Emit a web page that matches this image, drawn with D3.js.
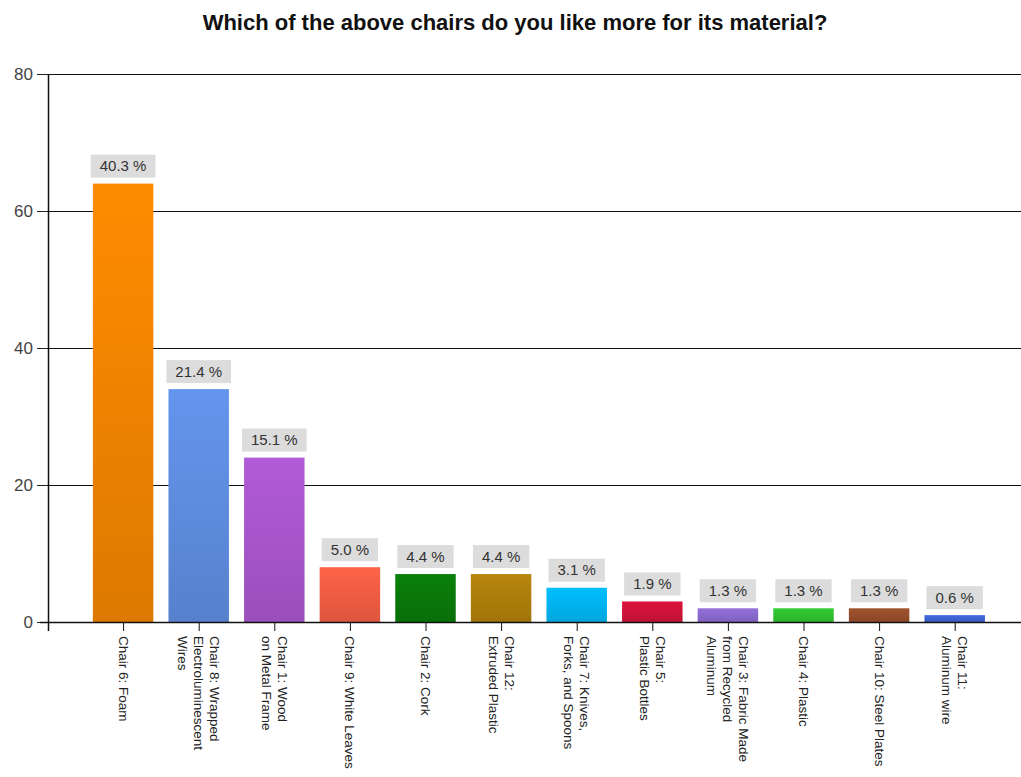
<!DOCTYPE html>
<meta charset="utf-8">
<style>
body { margin: 0; background: #fff; }
svg { display: block; font-family: "Liberation Sans", Arial, sans-serif; }
</style>
<svg width="1021" height="777"></svg>
<script src="https://d3js.org/d3.v7.js"></script>
<script>

// chart values
var categories = [
  "Chair 6: Foam",
  "Chair 8: Wrapped\nElectroluminescent\nWires",
  "Chair 1: Wood\non Metal Frame",
  "Chair 9: White Leaves",
  "Chair 2: Cork",
  "Chair 12:\nExtruded Plastic",
  "Chair 7: Knives,\nForks, and Spoons",
  "Chair 5:\nPlastic Bottles",
  "Chair 3: Fabric Made\nfrom Recycled\nAluminum",
  "Chair 4: Plastic",
  "Chair 10: Steel Plates",
  "Chair 11:\nAluminum wire"
]
var counts = [64, 34, 24, 8, 7, 7, 5, 3, 2, 2, 2, 1]
var percents = ["40.3 %", "21.4 %", "15.1 %", "5.0 %", "4.4 %", "4.4 %", "3.1 %", "1.9 %", "1.3 %", "1.3 %", "1.3 %", "0.6 %"]
var yTicks = [0, 20, 40, 60, 80]
var title = "Which of the above chairs do you like more for its material?"

var palette = ["#ff8c00", "#6495ed", "#b25bd8", "#ff6347", "#0a800a", "#b8860b",
               "#00bfff", "#dc143c", "#9370db", "#32cd32", "#a0522d", "#4169e1"]

var svg = d3.select("svg")

var xScale = d3.scaleBand().domain(d3.range(categories.length))
  .range([85.3, 992.5]).paddingInner(0.2).paddingOuter(0.1)
var yScale = d3.scaleLinear().domain([0, 80]).range([622, 74])

// gradients
var defs = svg.append("defs")
palette.forEach(function (c, i) {
  var grad = defs.append("linearGradient").attr("id", "grad" + i)
    .attr("x1", 0).attr("y1", 0).attr("x2", 0).attr("y2", 1)
  grad.append("stop").attr("offset", "0%").attr("stop-color", c)
  grad.append("stop").attr("offset", "100%").attr("stop-color", d3.color(c).darker(0.4))
})

svg.append("text")
  .attr("x", 515).attr("y", 30)
  .attr("text-anchor", "middle")
  .style("font-size", "22px").style("font-weight", "bold").style("fill", "#111")
  .text(title)

// grid lines + y axis
var yAxis = svg.append("g").attr("transform", "translate(48,0)")
  .call(d3.axisLeft(yScale).tickValues(yTicks).tickSize(11).tickPadding(4))
yAxis.select(".domain").remove()
yAxis.selectAll(".tick line").attr("stroke", "#222")
yAxis.selectAll(".tick text").style("font-size", "17px").style("fill", "#444")
  .style("font-family", "Liberation Sans, Arial, sans-serif")

svg.append("g").selectAll("line.grid")
  .data(yTicks.slice(1))
  .enter().append("line")
  .attr("x1", 48).attr("x2", 1021)
  .attr("y1", function (d) { return yScale(d) + 0.5 })
  .attr("y2", function (d) { return yScale(d) + 0.5 })
  .attr("stroke", "#111")

// bars
svg.append("g").selectAll("rect")
  .data(counts)
  .enter().append("rect")
  .attr("x", function (d, i) { return xScale(i) })
  .attr("width", xScale.bandwidth())
  .attr("y", function (d) { return yScale(d) })
  .attr("height", function (d) { return yScale(0) - yScale(d) })
  .attr("fill", function (d, i) { return "url(#grad" + i + ")" })

// x axis
svg.append("line").attr("x1", 40).attr("x2", 1021)
  .attr("y1", yScale(0) + 0.5).attr("y2", yScale(0) + 0.5).attr("stroke", "#111").attr("stroke-width", 1.5)
svg.append("line").attr("x1", 48.5).attr("x2", 48.5)
  .attr("y1", yScale(80)).attr("y2", yScale(0) + 9).attr("stroke", "#111").attr("stroke-width", 1.5)

var xg = svg.append("g").selectAll("g.xtick")
  .data(categories)
  .enter().append("g")
  .attr("transform", function (d, i) { return "translate(" + (xScale(i) + xScale.bandwidth() / 2) + ",0)" })

xg.append("line").attr("x1", 0.5).attr("x2", 0.5)
  .attr("y1", yScale(0)).attr("y2", yScale(0) + 9).attr("stroke", "#111")

xg.append("text")
  .attr("transform", "translate(0,636) rotate(90)")
  .style("font-size", "13.5px").style("fill", "#222")
  .each(function (d) {
    var lines = d.split("\n")
    var t = d3.select(this)
    var b = 4.5 - (lines.length - 1) * 8
    lines.forEach(function (l, k) {
      t.append("tspan").attr("x", 0).attr("y", b + k * 16).text(l)
    })
  })

// value labels
var lab = svg.append("g").selectAll("g.lab")
  .data(counts)
  .enter().append("g")
  .attr("transform", function (d, i) {
    return "translate(" + (xScale(i) + xScale.bandwidth() / 2) + "," + (yScale(d) - 6) + ")"
  })

lab.append("rect").attr("fill", "#dcdcdc")
lab.append("text")
  .attr("text-anchor", "middle").attr("y", -6.5)
  .style("font-size", "15px").style("fill", "#333")
  .text(function (d, i) { return percents[i] })

lab.each(function () {
  var g = d3.select(this)
  var w = g.select("text").node().getComputedTextLength() + 18
  g.select("rect").attr("x", -w / 2).attr("width", w).attr("y", -23).attr("height", 23)
})

</script>
